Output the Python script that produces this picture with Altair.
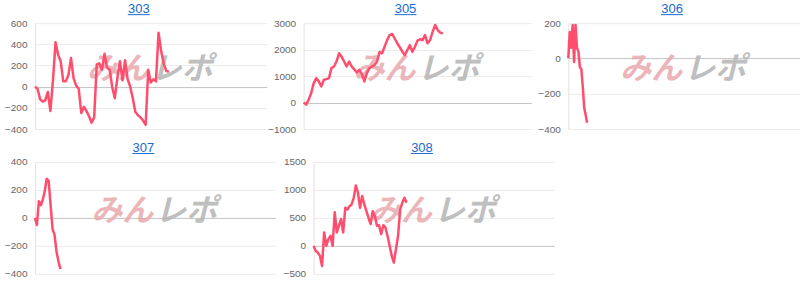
import altair as alt
import pandas as pd

names = ["303", "305", "306", "307", "308"]

v303 = [0, -20, -120, -140, -130, -50, -230, 60, 420, 300, 240, 50, 50, 110, 270,
        80, 10, -20, -250, -190, -230, -280, -340, -290, 210, 220, 160, 310, 180,
        160, 0, -110, 80, 240, 60, 250, 70, 0, -110, -240, -270, -290, -320, -360,
        160, 40, 70, 50, 510, 340, 220, 150, 140]
v305 = [0, -80, 110, 360, 735, 920, 800, 610, 860, 885, 920, 1300, 1360, 1550, 1860,
        1735, 1550, 1360, 1550, 1360, 1260, 1135, 1235, 1085, 800, 1110, 1300, 1360,
        1420, 1540, 1910, 1860, 2110, 2360, 2550, 2590, 2420, 2240, 2090, 1920, 1800,
        1985, 2170, 1920, 2110, 2340, 2390, 2360, 2550, 2240, 2360, 2675, 2930, 2740,
        2640, 2610]
v306 = [0, 150, 60, 190, -20, 190, 60, 40, -50, -60, -160, -280, -320, -365]
v307 = [0, -50, 120, 90, 130, 190, 280, 265, 90, -80, -120, -240, -310, -365]
v308 = [0, -90, -120, -180, -360, 240, 0, 120, 180, 0, 600, 240, 360, 480, 240, 680,
        650, 710, 740, 860, 1080, 950, 680, 890, 740, 620, 500, 390, 620, 535, 360,
        370, 210, 370, 330, 180, 0, -180, -300, -60, 180, 650, 770, 860, 770]

series = [v303, v305, v306, v307, v308]
y_domains = [[-400, 600], [-1000, 3000], [-400, 200], [-400, 400], [-500, 1500]]
y_ticks = [[-400, -200, 0, 200, 400, 600], [-1000, 0, 1000, 2000, 3000],
           [-400, -200, 0, 200], [-400, -200, 0, 200, 400],
           [-500, 0, 500, 1000, 1500]]
x_slots = [90, 90, 160, 123, 114]
wm_parts = ["みん", "レポ"]

LINE = "#ff4d6d"
BLUE = "#1a6ad2"


def panel(i, w, h, ext):
    df = pd.DataFrame({"x": list(range(len(series[i]))), "y": series[i]})
    one = pd.DataFrame({"a": wm_parts[:1], "b": wm_parts[1:], "n": [names[i]]})
    cx = w / 2 - 12
    yenc = alt.Y("y:Q", title=None,
                 scale=alt.Scale(domain=y_domains[i], nice=False, zero=False),
                 axis=alt.Axis(values=y_ticks[i], format="d", ticks=False,
                               labelOverlap=False, labelFlush=False,
                               labelPadding=8, minExtent=ext, maxExtent=ext,
                               domainColor="#e2e2e2",
                               gridColor=alt.condition("datum.value === 0",
                                                       alt.value("#c4c4c4"),
                                                       alt.value("#ebebeb")),
                               labelColor="#666666", labelFontSize=10,
                               labelFont="Liberation Sans"))
    wm1 = alt.Chart(one).mark_text(
        font="Noto Sans CJK JP", fontSize=31, fontWeight="bold", fontStyle="italic",
        color="#e8a9ad", opacity=0.85, baseline="middle", align="center"
    ).encode(text="a:N", x=alt.value(w / 2 - 33), y=alt.value(h / 2 - 6))
    wm2 = alt.Chart(one).mark_text(
        font="Noto Sans CJK JP", fontSize=31, fontWeight="bold", fontStyle="italic",
        color="#b4b4b4", opacity=0.85, baseline="middle", align="center"
    ).encode(text="b:N", x=alt.value(w / 2 + 31), y=alt.value(h / 2 - 6))
    line = alt.Chart(df).mark_line(color=LINE, strokeWidth=2.5,
                                   strokeJoin="round").encode(
        x=alt.X("x:Q", scale=alt.Scale(domain=[0, x_slots[i]], nice=False),
                axis=None),
        y=yenc)
    title = alt.Chart(one).mark_text(
        font="Liberation Sans", fontSize=13, color=BLUE, align="center",
        baseline="alphabetic"
    ).encode(text="n:N", x=alt.value(cx), y=alt.value(-10))
    underline = alt.Chart(one).mark_rule(color=BLUE, strokeWidth=1).encode(
        x=alt.value(cx - 11), x2=alt.value(cx + 11), y=alt.value(-8.5))
    return alt.layer(wm1, wm2, line, title, underline).properties(
        width=w, height=h)


row1 = alt.hconcat(panel(0, 232, 106, 35), panel(1, 228, 106, 35),
                   panel(2, 232, 106, 37), spacing=0)
row2 = alt.hconcat(panel(3, 241, 112, 35), panel(4, 241, 112, 38), spacing=0)

chart = alt.vconcat(row1, row2, spacing=8).properties(
    padding={"left": 0, "top": 3, "right": 0, "bottom": 0}
).configure_view(stroke=None).configure_axisY(grid=True)

chart.save("out.html", embed_options={"renderer": "svg", "actions": False})
